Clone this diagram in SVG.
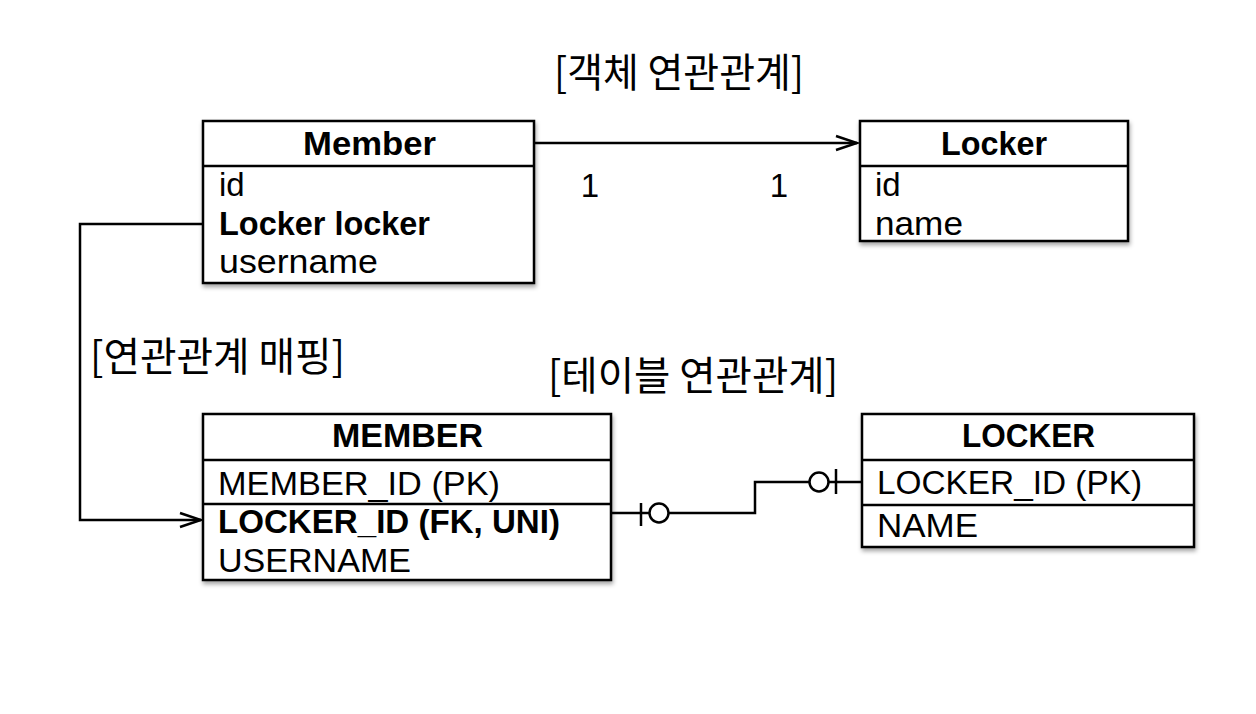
<svg xmlns="http://www.w3.org/2000/svg" width="1256" height="714" viewBox="0 0 1256 714">
<style>
.box{fill:#fff;stroke:#000;stroke-width:2.5}
.div{stroke:#000;stroke-width:2.5}
.t{font-family:"Liberation Sans","Noto Sans CJK KR",sans-serif;font-size:33px;fill:#000}
.h{font-family:"Liberation Sans","Noto Sans CJK KR",sans-serif;font-size:33px;font-weight:bold;fill:#000}
.b{font-weight:bold}
.k{font-family:"Noto Sans CJK KR","Liberation Sans",sans-serif;font-size:40px;fill:#000}
.c{fill:none;stroke:#000;stroke-width:2.5}
</style>
<defs>
<filter id="sh" x="-5%" y="-5%" width="110%" height="120%">
<feDropShadow dx="1" dy="3" stdDeviation="2" flood-color="#000" flood-opacity="0.35"/>
</filter>
<marker id="arr" markerWidth="26" markerHeight="18" refX="23" refY="9" orient="auto" markerUnits="userSpaceOnUse">
<path d="M2,2 L23,9 L2,16" fill="none" stroke="#000" stroke-width="2.5"/>
</marker>
</defs>
<rect width="1256" height="714" fill="#fff"/>
<text class="k" x="554" y="87" textLength="250" lengthAdjust="spacingAndGlyphs">[객체 연관관계]</text>
<text class="k" x="90" y="371" textLength="255" lengthAdjust="spacingAndGlyphs">[연관관계 매핑]</text>
<text class="k" x="548" y="390" textLength="290" lengthAdjust="spacingAndGlyphs">[테이블 연관관계]</text>

<g id="member">
<rect class="box" x="203" y="121" width="331" height="162" filter="url(#sh)"/>
<line class="div" x1="203" y1="166" x2="534" y2="166"/>
<text class="h" x="303" y="155" textLength="133" lengthAdjust="spacingAndGlyphs">Member</text>
<text class="t" x="219" y="196">id</text>
<text class="t b" x="219" y="235" textLength="211" lengthAdjust="spacingAndGlyphs">Locker locker</text>
<text class="t" x="219" y="273" textLength="159" lengthAdjust="spacingAndGlyphs">username</text>
</g>

<g id="locker">
<rect class="box" x="860" y="121" width="268" height="120" filter="url(#sh)"/>
<line class="div" x1="860" y1="166" x2="1128" y2="166"/>
<text class="h" x="941" y="155" textLength="106" lengthAdjust="spacingAndGlyphs">Locker</text>
<text class="t" x="875" y="196">id</text>
<text class="t" x="875" y="235" textLength="88" lengthAdjust="spacingAndGlyphs">name</text>
</g>

<g id="MEMBER">
<rect class="box" x="203" y="414" width="408" height="166" filter="url(#sh)"/>
<line class="div" x1="203" y1="460" x2="611" y2="460"/>
<line class="div" x1="203" y1="504" x2="611" y2="504"/>
<text class="h" x="332" y="447" textLength="151" lengthAdjust="spacingAndGlyphs">MEMBER</text>
<text class="t" x="218" y="495" textLength="282" lengthAdjust="spacingAndGlyphs">MEMBER_ID (PK)</text>
<text class="t b" x="218" y="533" textLength="342" lengthAdjust="spacingAndGlyphs">LOCKER_ID (FK, UNI)</text>
<text class="t" x="218" y="572" textLength="193" lengthAdjust="spacingAndGlyphs">USERNAME</text>
</g>

<g id="LOCKER">
<rect class="box" x="862" y="414" width="332" height="133" filter="url(#sh)"/>
<line class="div" x1="862" y1="460" x2="1194" y2="460"/>
<line class="div" x1="862" y1="505" x2="1194" y2="505"/>
<text class="h" x="962" y="447" textLength="133" lengthAdjust="spacingAndGlyphs">LOCKER</text>
<text class="t" x="877" y="494" textLength="265" lengthAdjust="spacingAndGlyphs">LOCKER_ID (PK)</text>
<text class="t" x="877" y="537" textLength="101" lengthAdjust="spacingAndGlyphs">NAME</text>
</g>

<g id="connectors">
<line class="c" x1="534" y1="143" x2="857" y2="143" marker-end="url(#arr)"/>
<text class="t" x="590" y="197" text-anchor="middle">1</text>
<text class="t" x="779" y="197" text-anchor="middle">1</text>
<polyline class="c" points="203,224 80,224 80,520 201,520" marker-end="url(#arr)"/>
<line class="c" x1="611" y1="513" x2="649" y2="513"/>
<line class="c" x1="641" y1="503" x2="641" y2="526"/>
<circle class="c" cx="659" cy="513" r="9.5"/>
<polyline class="c" points="668.5,513 755,513 755,482 809.5,482"/>
<circle class="c" cx="819" cy="482" r="9.5"/>
<line class="c" x1="828.5" y1="482" x2="862" y2="482"/>
<line class="c" x1="836" y1="469" x2="836" y2="494"/>
</g>
</svg>
